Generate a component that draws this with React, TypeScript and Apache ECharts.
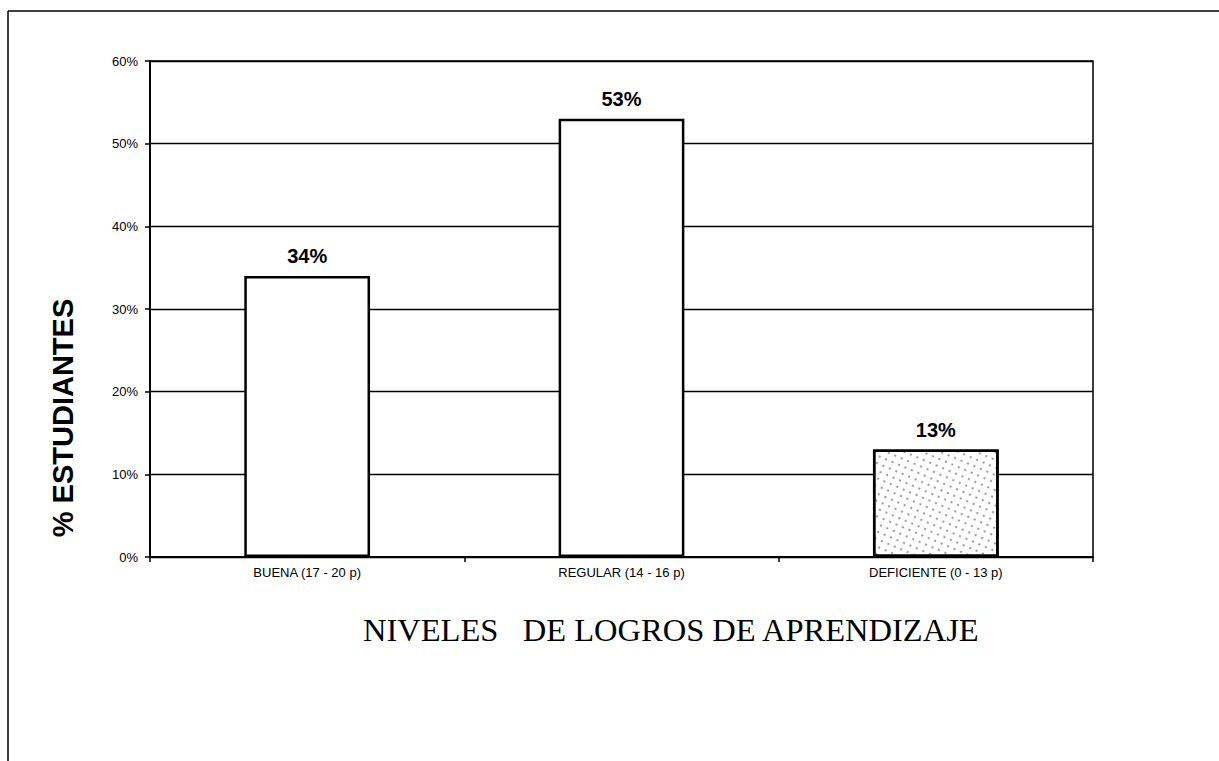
import React, { useEffect, useRef } from "react";
import * as echarts from "echarts";

const categories = ["BUENA (17 - 20 p)", "REGULAR (14 - 16 p)", "DEFICIENTE (0 - 13 p)"];
const percentValues = [34, 53, 13];
const yTicks = { min: 0, max: 60, interval: 10 };
const yAxisTitle = "% ESTUDIANTES";
const xAxisTitle = "NIVELES   DE LOGROS DE APRENDIZAJE";

export default function App() {
  const ref = useRef<HTMLDivElement>(null);

  useEffect(() => {
    document.body.style.margin = "0";
    const chart = echarts.init(ref.current!, null, { renderer: "svg" });
    const sans = "'Liberation Sans', Arial, sans-serif";
    const serif = "'Liberation Serif', 'Times New Roman', serif";

    const data = percentValues.map((v, i) =>
      i === 2
        ? {
            value: v,
            itemStyle: {
              color: "#ffffff",
              decal: {
                symbol: "circle",
                symbolSize: 1,
                color: "rgba(0,0,0,0.45)",
                dashArrayX: [[2, 5]],
                dashArrayY: [2, 5],
                rotation: 0.4,
              },
            },
          }
        : v
    );

    chart.setOption({
      animation: false,
      backgroundColor: "#ffffff",
      grid: {
        left: 150,
        top: 61,
        right: 126,
        bottom: 204,
        show: true,
        borderColor: "#000",
        borderWidth: 1.5,
        backgroundColor: "transparent",
      },
      xAxis: {
        type: "category",
        data: categories,
        axisLine: { lineStyle: { color: "#000", width: 2 } },
        axisTick: { show: true, length: 5, inside: false, lineStyle: { color: "#000", width: 1.5 } },
        axisLabel: { color: "#000", fontFamily: sans, fontSize: 13, margin: 9 },
        splitLine: { show: false },
      },
      yAxis: {
        type: "value",
        min: yTicks.min,
        max: yTicks.max,
        interval: yTicks.interval,
        axisLine: { show: true, lineStyle: { color: "#000", width: 2 } },
        axisTick: { show: true, length: 5, lineStyle: { color: "#000", width: 1.5 } },
        axisLabel: {
          color: "#000",
          fontFamily: sans,
          fontSize: 13,
          margin: 12,
          formatter: "{value}%",
        },
        splitLine: { show: true, lineStyle: { color: "#000", width: 1.3 } },
      },
      series: [
        {
          type: "bar",
          data,
          barWidth: "40%",
          itemStyle: { color: "#ffffff", borderColor: "#000", borderWidth: 2.5 },
          label: {
            show: true,
            position: "top",
            distance: 10,
            formatter: "{c}%",
            color: "#000",
            fontFamily: sans,
            fontWeight: "bold",
            fontSize: 20,
          },
        },
      ],
      graphic: [
        {
          type: "line",
          shape: { x1: 8, y1: 11, x2: 1219, y2: 11 },
          style: { stroke: "#000", lineWidth: 1.5 },
        },
        {
          type: "line",
          shape: { x1: 8, y1: 11, x2: 8, y2: 761 },
          style: { stroke: "#000", lineWidth: 1.5 },
        },
        {
          type: "text",
          x: 63,
          y: 418,
          rotation: Math.PI / 2,
          style: {
            text: yAxisTitle,
            fill: "#000",
            font: `bold 29px ${sans}`,
            textAlign: "center",
            textVerticalAlign: "middle",
          },
        },
        {
          type: "text",
          x: 363,
          y: 630,
          style: {
            text: xAxisTitle,
            fill: "#000",
            font: `32.5px ${serif}`,
            textAlign: "left",
            textVerticalAlign: "middle",
          },
        },
      ],
    });
    return () => chart.dispose();
  }, []);

  return <div ref={ref} style={{ width: 1219, height: 761 }} />;
}
